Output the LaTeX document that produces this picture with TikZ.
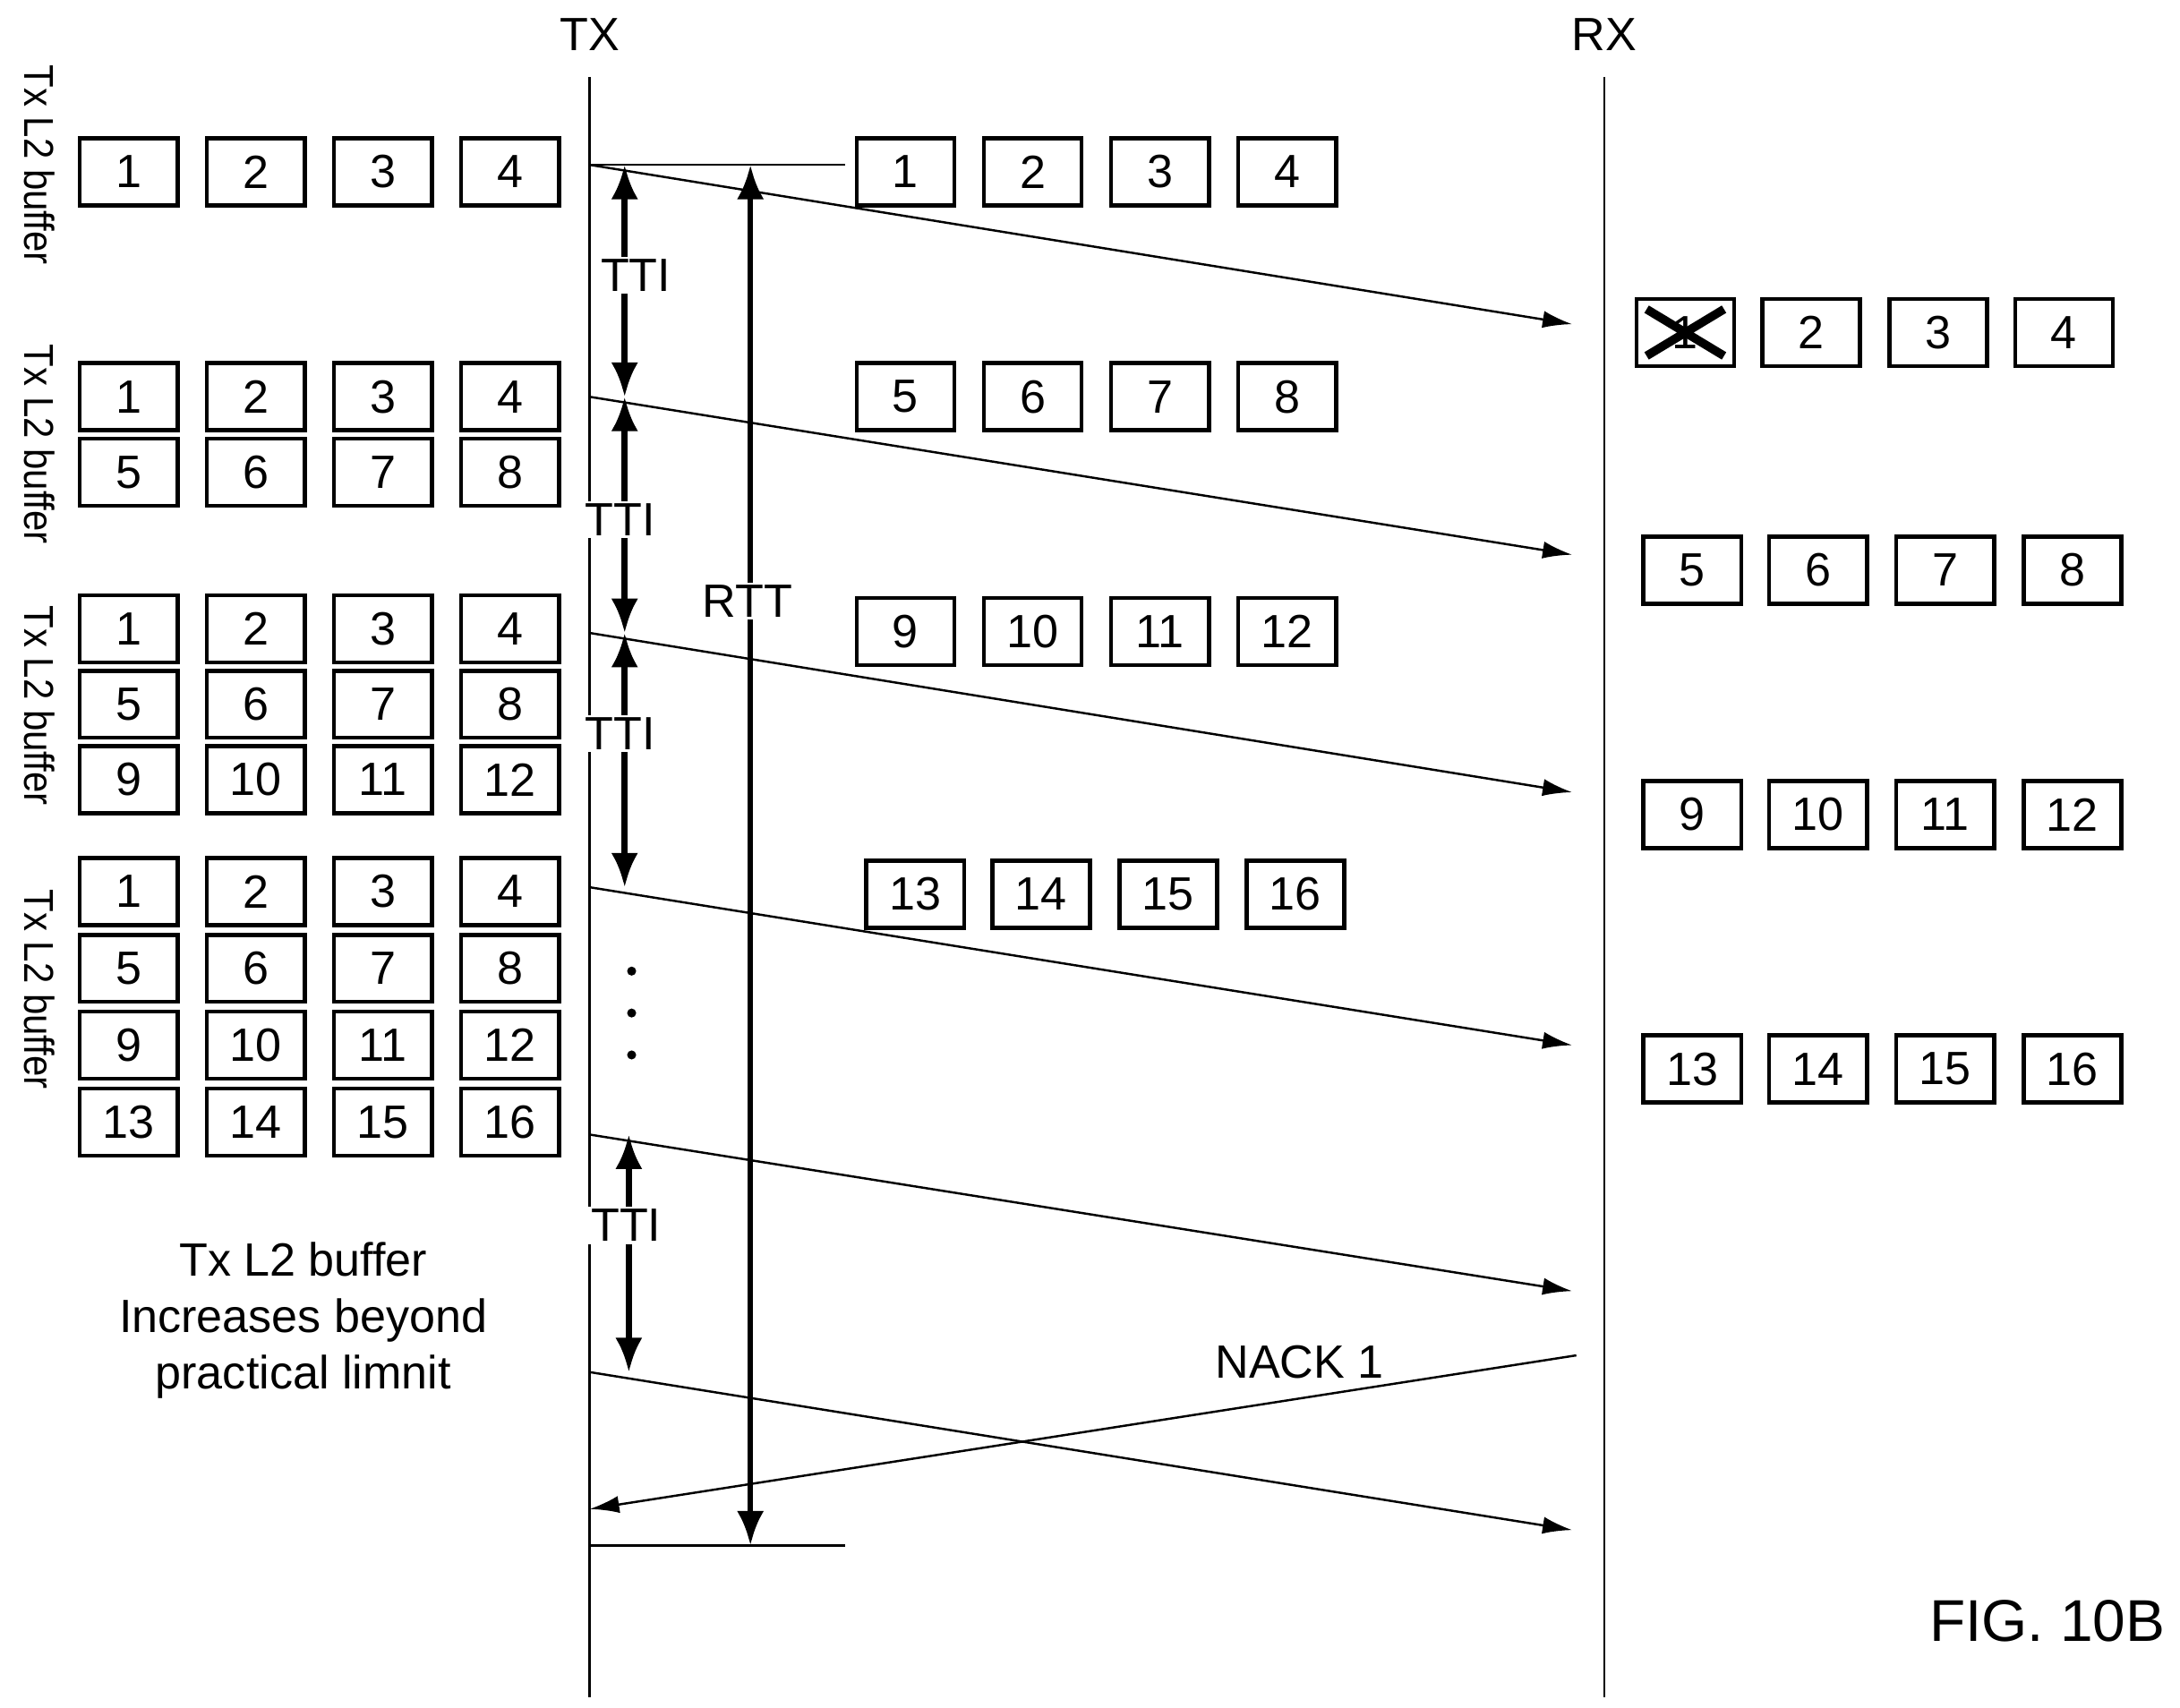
\documentclass[tikz,border=0pt]{standalone}
\usepackage{fontspec}
\setmainfont{Liberation Sans}
\usetikzlibrary{arrows.meta}
\begin{document}
\begin{tikzpicture}[x=0.02cm,y=-0.02cm,
  font=\fontsize{19}{23}\selectfont,
  box/.style={draw,line width=1.7pt,minimum width=1.4cm,minimum height=0.96cm,inner sep=0pt},
  thin/.style={line width=0.9pt},
  tx/.style={thin,-{Latex[length=12pt,width=7pt]}},
  big/.style={line width=2.4pt,{Latex[length=14pt,width=11pt]}-{Latex[length=14pt,width=11pt]}},
  lbl/.style={fill=white,inner sep=1pt}]
\useasboundingbox (0,0) rectangle (1560,1222);
% lifelines
\coordinate (txT) at (422,55); \coordinate (txB) at (422,1215);
\coordinate (rxT) at (1148,55); \coordinate (rxB) at (1148,1215);
\draw[thin] (txT)--(txB); \draw[thin] (rxT)--(rxB);
\node (TX) at (422,25) {TX}; \node (RX) at (1148,25) {RX};
% left buffers
\foreach \g/\ys/\ly in {1/{123}/118, 2/{284,338}/318, 3/{450,504,558}/505, 4/{638,693,748,803}/708}{
  \node[rotate=-90,font=\fontsize{17}{20}\selectfont,xscale=0.9] (buf\g) at (28,\ly) {Tx L2 buffer};
  \foreach \y [count=\r] in \ys {
    \foreach \x [count=\c] in {92,183,274,365}{
      \pgfmathtruncatemacro\n{(\r-1)*4+\c}
      \node[box] (L\g-\n) at (\x,\y) {\n};
    }}}
% middle boxes
\foreach \y/\s/\xs [count=\g] in {123/0/{648,739,830,921},284/4/{648,739,830,921},452/8/{648,739,830,921},640/12/{655,745,836,927}}{
  \foreach \x [count=\c] in \xs {
    \pgfmathtruncatemacro\n{\s+\c}
    \node[box] (M\n) at (\x,\y) {\n};}}
% rx boxes
\foreach \y/\s/\xs in {238/0/{1206,1296,1387,1477},408/4/{1211,1301,1392,1483},583/8/{1211,1301,1392,1483},765/12/{1211,1301,1392,1483}}{
  \foreach \x [count=\c] in \xs {
    \pgfmathtruncatemacro\n{\s+\c}
    \node[box] (R\n) at (\x,\y) {\n};}}
\draw[line width=3.5pt] ([shift={(5pt,-5pt)}]R1.north west)--([shift={(-5pt,5pt)}]R1.south east)
  ([shift={(5pt,5pt)}]R1.south west)--([shift={(-5pt,-5pt)}]R1.north east);
% transmissions
\foreach \i/\a/\b in {1/118/232,2/284/397,3/453/567,4/635/748,5/812/924,6/982/1095}{
  \coordinate (s\i) at (422,\a); \coordinate (e\i) at (1125,\b);
  \draw[tx] (s\i)--(e\i);}
\coordinate (nS) at (1128,970); \coordinate (nE) at (422,1080);
\draw[tx] (nS)--(nE);
\node (nack) at (930,975) {NACK 1};
% RTT
\coordinate (r1) at (605,118); \coordinate (r2) at (605,1106); \coordinate (s7) at (422,1106);
\draw[thin] (s1)--(r1); \draw[thin] (s7)--(r2);
\coordinate (ra) at (537,118); \coordinate (rb) at (537,1106);
\draw[big] (ra)--(rb);
\node[lbl] (rtt) at (535,430) {RTT};
% TTI arrows
\foreach \i/\x/\a/\b in {1/447/118/284,2/447/284/453,3/447/453/635,4/450/812/982}{
  \coordinate (ta\i) at (\x,\a); \coordinate (tb\i) at (\x,\b);
  \draw[big] (ta\i)--(tb\i);}
% TTI labels (over arrows)
\foreach \i/\lx/\ly in {1/455/197,2/444/372,3/444/525,4/448/877}{
  \node[lbl] (tti\i) at (\lx,\ly) {TTI};}
\foreach \y [count=\k] in {695,725,755}{\node[circle,fill,inner sep=1.3pt] (dot\k) at (452,\y) {};}
\node[align=center] (note) at (217,945) {Tx L2 buffer\\Increases beyond\\practical limnit};
\node[font=\fontsize{24}{28}\selectfont] (fig) at (1465,1160) {FIG. 10B};
\end{tikzpicture}
\end{document}
